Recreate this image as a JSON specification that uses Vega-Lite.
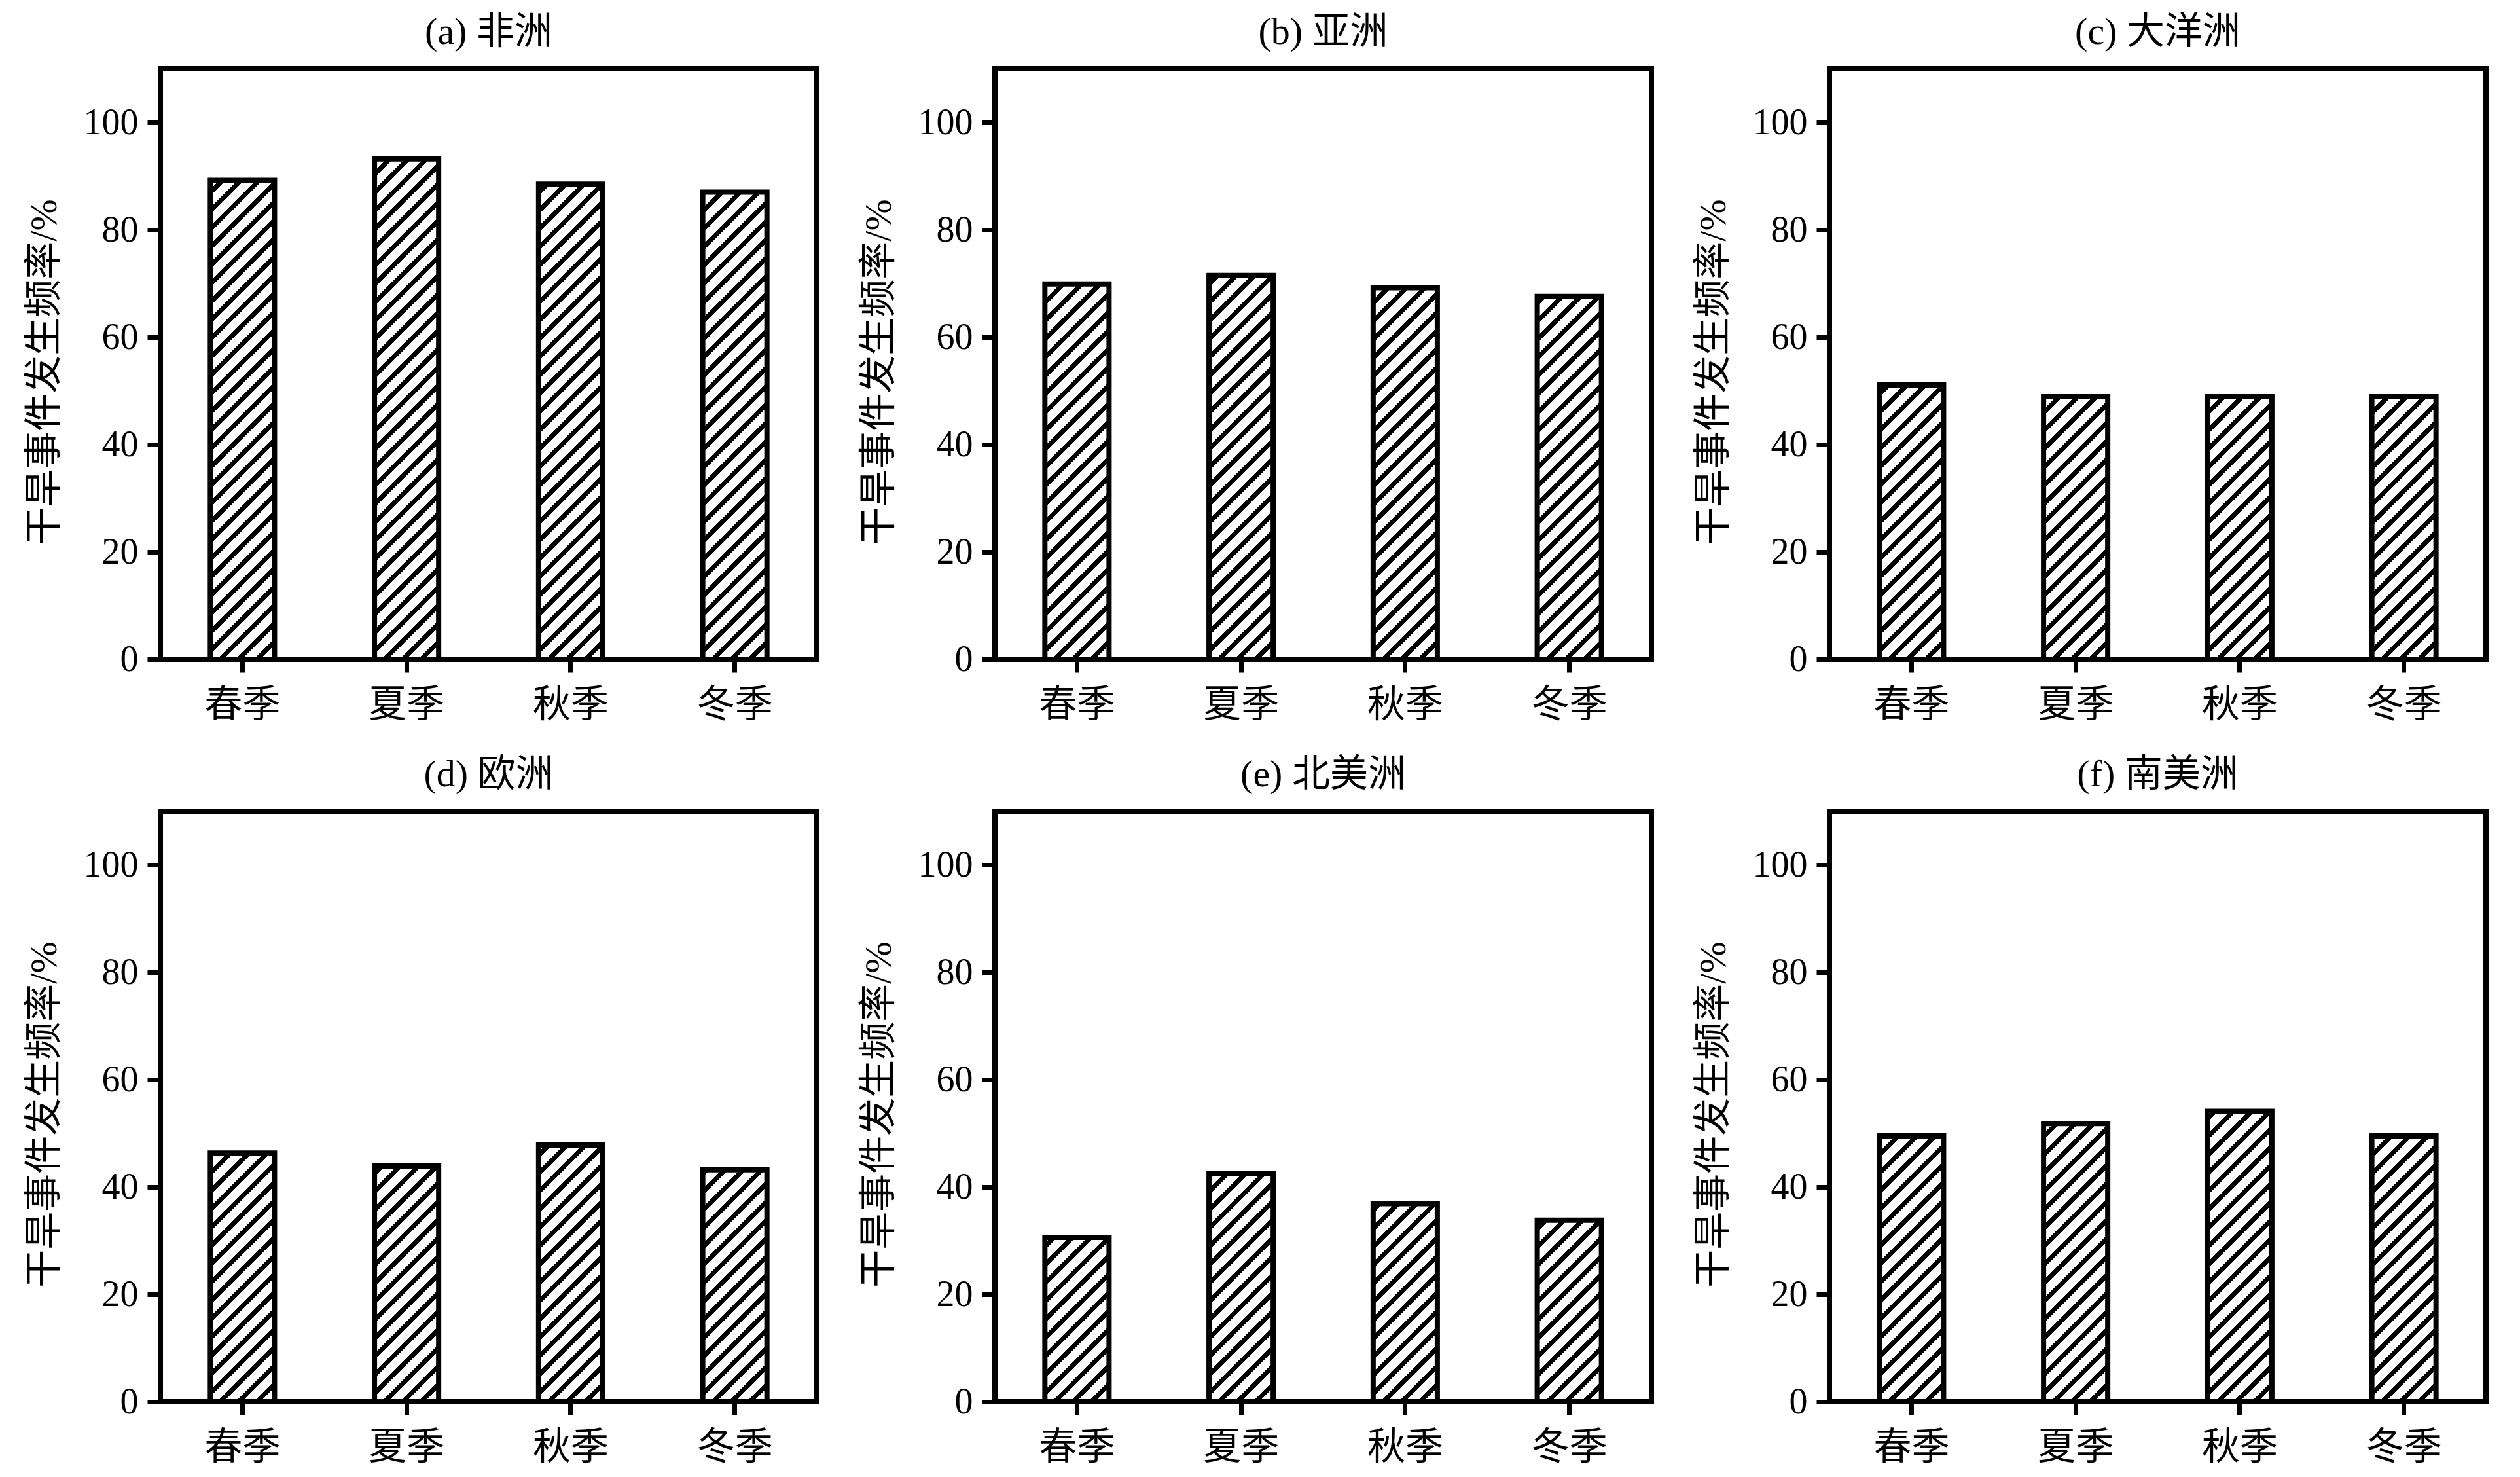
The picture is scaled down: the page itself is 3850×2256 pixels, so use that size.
{
  "$schema": "https://vega.github.io/schema/vega-lite/v6.json",
  "background": "white",
  "padding": {"left": 35, "top": 17, "right": 10, "bottom": 10},
  "data": {
    "values": [
      {"panel": "(a) 非洲", "season": "春季", "value": 89.2},
      {"panel": "(a) 非洲", "season": "夏季", "value": 93.2},
      {"panel": "(a) 非洲", "season": "秋季", "value": 88.5},
      {"panel": "(a) 非洲", "season": "冬季", "value": 87.0},
      {"panel": "(b) 亚洲", "season": "春季", "value": 69.9},
      {"panel": "(b) 亚洲", "season": "夏季", "value": 71.5},
      {"panel": "(b) 亚洲", "season": "秋季", "value": 69.2},
      {"panel": "(b) 亚洲", "season": "冬季", "value": 67.6},
      {"panel": "(c) 大洋洲", "season": "春季", "value": 51.1},
      {"panel": "(c) 大洋洲", "season": "夏季", "value": 48.9},
      {"panel": "(c) 大洋洲", "season": "秋季", "value": 48.9},
      {"panel": "(c) 大洋洲", "season": "冬季", "value": 48.9},
      {"panel": "(d) 欧洲", "season": "春季", "value": 46.3},
      {"panel": "(d) 欧洲", "season": "夏季", "value": 43.9},
      {"panel": "(d) 欧洲", "season": "秋季", "value": 47.8},
      {"panel": "(d) 欧洲", "season": "冬季", "value": 43.2},
      {"panel": "(e) 北美洲", "season": "春季", "value": 30.6},
      {"panel": "(e) 北美洲", "season": "夏季", "value": 42.5},
      {"panel": "(e) 北美洲", "season": "秋季", "value": 36.9},
      {"panel": "(e) 北美洲", "season": "冬季", "value": 33.8},
      {"panel": "(f) 南美洲", "season": "春季", "value": 49.5},
      {"panel": "(f) 南美洲", "season": "夏季", "value": 51.8},
      {"panel": "(f) 南美洲", "season": "秋季", "value": 54.1},
      {"panel": "(f) 南美洲", "season": "冬季", "value": 49.5}
    ]
  },
  "facet": {
    "field": "panel",
    "type": "nominal",
    "title": null,
    "sort": ["(a) 非洲", "(b) 亚洲", "(c) 大洋洲", "(d) 欧洲", "(e) 北美洲", "(f) 南美洲"],
    "header": {
      "labelFont": "Liberation Serif, Noto Sans CJK SC",
      "labelFontSize": 58,
      "labelColor": "black",
      "labelPadding": 26
    }
  },
  "columns": 3,
  "spacing": {"column": 58, "row": 41},
  "resolve": {"axis": {"x": "independent", "y": "independent"}},
  "spec": {
    "width": 1003,
    "height": 902,
    "encoding": {
      "x": {
        "field": "season",
        "type": "nominal",
        "sort": ["春季", "夏季", "秋季", "冬季"],
        "title": null,
        "scale": {"paddingInner": 0.609, "paddingOuter": 0.3045}
      }
    },
    "layer": [
      {
        "mark": {
          "type": "bar",
          "strokeWidth": 0,
          "fill": {
            "gradient": "linear",
            "x1": 0, "y1": 0, "x2": 0.13826, "y2": 1.2494,
            "stops": [
              {"offset": 0, "color": "#000"}, {"offset": 0.009, "color": "#000"}, {"offset": 0.009, "color": "#fff"}, {"offset": 0.025, "color": "#fff"},
              {"offset": 0.025, "color": "#000"}, {"offset": 0.034, "color": "#000"}, {"offset": 0.034, "color": "#fff"}, {"offset": 0.05, "color": "#fff"},
              {"offset": 0.05, "color": "#000"}, {"offset": 0.059, "color": "#000"}, {"offset": 0.059, "color": "#fff"}, {"offset": 0.075, "color": "#fff"},
              {"offset": 0.075, "color": "#000"}, {"offset": 0.084, "color": "#000"}, {"offset": 0.084, "color": "#fff"}, {"offset": 0.1, "color": "#fff"},
              {"offset": 0.1, "color": "#000"}, {"offset": 0.109, "color": "#000"}, {"offset": 0.109, "color": "#fff"}, {"offset": 0.125, "color": "#fff"},
              {"offset": 0.125, "color": "#000"}, {"offset": 0.134, "color": "#000"}, {"offset": 0.134, "color": "#fff"}, {"offset": 0.15, "color": "#fff"},
              {"offset": 0.15, "color": "#000"}, {"offset": 0.159, "color": "#000"}, {"offset": 0.159, "color": "#fff"}, {"offset": 0.175, "color": "#fff"},
              {"offset": 0.175, "color": "#000"}, {"offset": 0.184, "color": "#000"}, {"offset": 0.184, "color": "#fff"}, {"offset": 0.2, "color": "#fff"},
              {"offset": 0.2, "color": "#000"}, {"offset": 0.209, "color": "#000"}, {"offset": 0.209, "color": "#fff"}, {"offset": 0.225, "color": "#fff"},
              {"offset": 0.225, "color": "#000"}, {"offset": 0.234, "color": "#000"}, {"offset": 0.234, "color": "#fff"}, {"offset": 0.25, "color": "#fff"},
              {"offset": 0.25, "color": "#000"}, {"offset": 0.259, "color": "#000"}, {"offset": 0.259, "color": "#fff"}, {"offset": 0.275, "color": "#fff"},
              {"offset": 0.275, "color": "#000"}, {"offset": 0.284, "color": "#000"}, {"offset": 0.284, "color": "#fff"}, {"offset": 0.3, "color": "#fff"},
              {"offset": 0.3, "color": "#000"}, {"offset": 0.309, "color": "#000"}, {"offset": 0.309, "color": "#fff"}, {"offset": 0.325, "color": "#fff"},
              {"offset": 0.325, "color": "#000"}, {"offset": 0.334, "color": "#000"}, {"offset": 0.334, "color": "#fff"}, {"offset": 0.35, "color": "#fff"},
              {"offset": 0.35, "color": "#000"}, {"offset": 0.359, "color": "#000"}, {"offset": 0.359, "color": "#fff"}, {"offset": 0.375, "color": "#fff"},
              {"offset": 0.375, "color": "#000"}, {"offset": 0.384, "color": "#000"}, {"offset": 0.384, "color": "#fff"}, {"offset": 0.4, "color": "#fff"},
              {"offset": 0.4, "color": "#000"}, {"offset": 0.409, "color": "#000"}, {"offset": 0.409, "color": "#fff"}, {"offset": 0.425, "color": "#fff"},
              {"offset": 0.425, "color": "#000"}, {"offset": 0.434, "color": "#000"}, {"offset": 0.434, "color": "#fff"}, {"offset": 0.45, "color": "#fff"},
              {"offset": 0.45, "color": "#000"}, {"offset": 0.459, "color": "#000"}, {"offset": 0.459, "color": "#fff"}, {"offset": 0.475, "color": "#fff"},
              {"offset": 0.475, "color": "#000"}, {"offset": 0.484, "color": "#000"}, {"offset": 0.484, "color": "#fff"}, {"offset": 0.5, "color": "#fff"},
              {"offset": 0.5, "color": "#000"}, {"offset": 0.509, "color": "#000"}, {"offset": 0.509, "color": "#fff"}, {"offset": 0.525, "color": "#fff"},
              {"offset": 0.525, "color": "#000"}, {"offset": 0.534, "color": "#000"}, {"offset": 0.534, "color": "#fff"}, {"offset": 0.55, "color": "#fff"},
              {"offset": 0.55, "color": "#000"}, {"offset": 0.559, "color": "#000"}, {"offset": 0.559, "color": "#fff"}, {"offset": 0.575, "color": "#fff"},
              {"offset": 0.575, "color": "#000"}, {"offset": 0.584, "color": "#000"}, {"offset": 0.584, "color": "#fff"}, {"offset": 0.6, "color": "#fff"},
              {"offset": 0.6, "color": "#000"}, {"offset": 0.609, "color": "#000"}, {"offset": 0.609, "color": "#fff"}, {"offset": 0.625, "color": "#fff"},
              {"offset": 0.625, "color": "#000"}, {"offset": 0.634, "color": "#000"}, {"offset": 0.634, "color": "#fff"}, {"offset": 0.65, "color": "#fff"},
              {"offset": 0.65, "color": "#000"}, {"offset": 0.659, "color": "#000"}, {"offset": 0.659, "color": "#fff"}, {"offset": 0.675, "color": "#fff"},
              {"offset": 0.675, "color": "#000"}, {"offset": 0.684, "color": "#000"}, {"offset": 0.684, "color": "#fff"}, {"offset": 0.7, "color": "#fff"},
              {"offset": 0.7, "color": "#000"}, {"offset": 0.709, "color": "#000"}, {"offset": 0.709, "color": "#fff"}, {"offset": 0.725, "color": "#fff"},
              {"offset": 0.725, "color": "#000"}, {"offset": 0.734, "color": "#000"}, {"offset": 0.734, "color": "#fff"}, {"offset": 0.75, "color": "#fff"},
              {"offset": 0.75, "color": "#000"}, {"offset": 0.759, "color": "#000"}, {"offset": 0.759, "color": "#fff"}, {"offset": 0.775, "color": "#fff"},
              {"offset": 0.775, "color": "#000"}, {"offset": 0.784, "color": "#000"}, {"offset": 0.784, "color": "#fff"}, {"offset": 0.8, "color": "#fff"},
              {"offset": 0.8, "color": "#000"}, {"offset": 0.809, "color": "#000"}, {"offset": 0.809, "color": "#fff"}, {"offset": 0.825, "color": "#fff"},
              {"offset": 0.825, "color": "#000"}, {"offset": 0.834, "color": "#000"}, {"offset": 0.834, "color": "#fff"}, {"offset": 0.85, "color": "#fff"},
              {"offset": 0.85, "color": "#000"}, {"offset": 0.859, "color": "#000"}, {"offset": 0.859, "color": "#fff"}, {"offset": 0.875, "color": "#fff"},
              {"offset": 0.875, "color": "#000"}, {"offset": 0.884, "color": "#000"}, {"offset": 0.884, "color": "#fff"}, {"offset": 0.9, "color": "#fff"}
            ]
          }
        },
        "encoding": {
          "y": {
            "datum": 108,
            "type": "quantitative",
            "scale": {"domain": [0, 110], "nice": false},
            "title": "干旱事件发生频率/%",
            "axis": {"values": [0, 20, 40, 60, 80, 100]}
          }
        }
      },
      {
        "mark": {"type": "bar", "fill": "white", "stroke": "white", "strokeWidth": 3},
        "encoding": {
          "y": {
            "field": "value",
            "type": "quantitative",
            "stack": null,
            "title": "干旱事件发生频率/%",
            "axis": {"values": [0, 20, 40, 60, 80, 100]}
          },
          "y2": {"datum": 108}
        }
      },
      {
        "mark": {"type": "bar", "fill": "transparent", "stroke": "black", "strokeWidth": 8},
        "encoding": {
          "y": {
            "field": "value",
            "type": "quantitative",
            "stack": null,
            "title": "干旱事件发生频率/%",
            "axis": {"values": [0, 20, 40, 60, 80, 100]}
          }
        }
      }
    ]
  },
  "config": {
    "view": {"stroke": "black", "strokeWidth": 8},
    "axis": {
      "domain": false,
      "grid": false,
      "tickColor": "black",
      "tickWidth": 7,
      "tickSize": 20,
      "labelColor": "black",
      "labelFont": "Liberation Serif, Noto Sans CJK SC",
      "titleFont": "Liberation Serif, Noto Sans CJK SC",
      "titleFontSize": 58,
      "titleFontWeight": "normal",
      "titleColor": "black"
    },
    "axisY": {"labelFontSize": 56, "labelPadding": 14, "titlePadding": 30, "titleY": 463},
    "axisX": {"labelFontSize": 58, "labelPadding": 21, "labelAngle": 0, "bandPosition": 0.5}
  }
}
